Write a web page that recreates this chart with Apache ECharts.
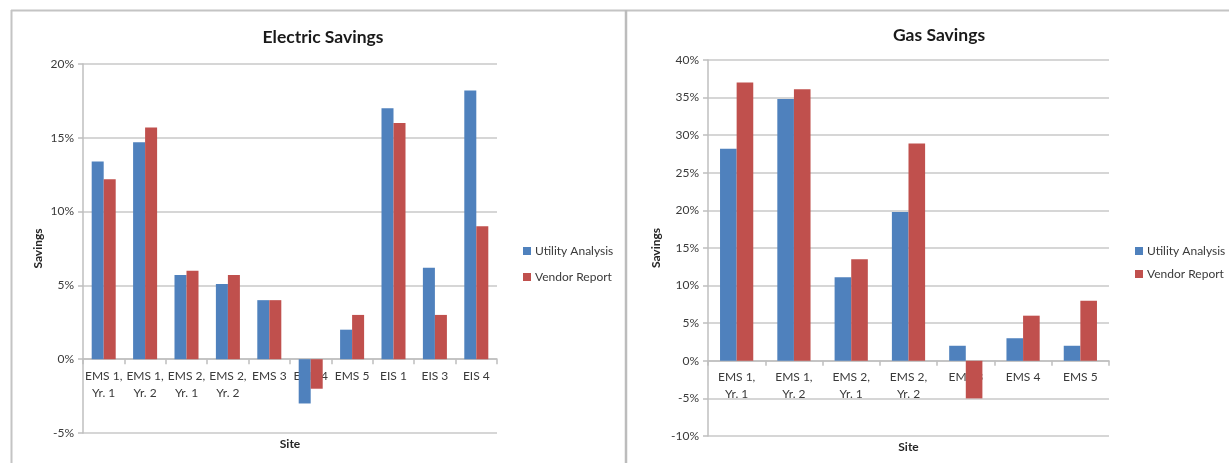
<!DOCTYPE html>
<html><head><meta charset="utf-8">
<script src="https://cdn.jsdelivr.net/npm/echarts@6/dist/echarts.min.js"></script>
<style>html,body{margin:0;padding:0;background:#fff;}#c{width:1229px;height:463px;}</style>
</head><body><div id="c"></div>
<script>
const elecCategories = ['EMS 1,\nYr. 1','EMS 1,\nYr. 2','EMS 2,\nYr. 1','EMS 2,\nYr. 2','EMS 3','EMS 4','EMS 5','EIS 1','EIS 3','EIS 4'];
const elecUtility = [13.4, 14.7, 5.7, 5.1, 4.0, -3.0, 2.0, 17.0, 6.2, 18.2];
const elecVendor  = [12.2, 15.7, 6.0, 5.7, 4.0, -2.0, 3.0, 16.0, 3.0, 9.0];
const gasCategories = ['EMS 1,\nYr. 1','EMS 1,\nYr. 2','EMS 2,\nYr. 1','EMS 2,\nYr. 2','EMS 3','EMS 4','EMS 5'];
const gasUtility = [28.2, 34.8, 11.1, 19.8, 2.0, 3.0, 2.0];
const gasVendor  = [37.0, 36.1, 13.5, 28.9, -5.0, 6.0, 8.0];
const seriesNames = ['Utility Analysis', 'Vendor Report'];
const elecTicks = { min: -5, max: 20 };
const gasTicks = { min: -10, max: 40 };

const FONT = 'Lato, "Liberation Sans", sans-serif';
const BLUE = '#4F81BD', RED = '#C0504D';
const TXT = '#3a3a3a', GRID = '#c8c8c8', AX = '#bfbfbf';

const grids = [
  { left: 83, right: 1229 - 497, top: 64, bottom: 463 - 433 },
  { left: 708, right: 1229 - 1109, top: 60, bottom: 463 - 436 }
];
function zeroOffset(g, t) {
  const h = 463 - g.top - g.bottom;
  return -h * (0 - t.min) / (t.max - t.min);
}

function xAx(idx, cats, t) {
  return {
    type: 'category', gridIndex: idx, data: cats,
    offset: zeroOffset(grids[idx], t),
    axisLine: { onZero: false, lineStyle: { color: AX, width: 1.5 } },
    axisTick: { show: true, length: 5, lineStyle: { color: AX, width: 1.5 } },
    axisLabel: { interval: 0, color: TXT, fontSize: 12, fontFamily: FONT, lineHeight: 17, margin: 8 },
    name: 'Site', nameLocation: 'middle', nameGap: idx === 0 ? 79 : 80,
    nameTextStyle: { fontWeight: 'bold', fontSize: 12, color: '#262626', fontFamily: FONT }
  };
}
function yAx(idx, t, gap) {
  return {
    type: 'value', gridIndex: idx, min: t.min, max: t.max, interval: 5,
    axisLine: { show: true, lineStyle: { color: AX, width: 1.5 } },
    axisTick: { show: true, length: 5, lineStyle: { color: AX, width: 1.5 } },
    splitLine: { show: true, lineStyle: { color: GRID, width: 1.5 } },
    axisLabel: { formatter: '{value}%', color: TXT, fontSize: 12, fontFamily: FONT, margin: 9 },
    name: 'Savings', nameLocation: 'middle', nameRotate: 90, nameGap: gap,
    nameTextStyle: { fontWeight: 'bold', fontSize: 12, color: '#262626', fontFamily: FONT }
  };
}
function bar(name, data, idx, color) {
  return {
    type: 'bar', name: name, data: data, xAxisIndex: idx, yAxisIndex: idx,
    itemStyle: { color: color }, barGap: '0%', barCategoryGap: '42%'
  };
}
function legend(left, gap) {
  return {
    orient: 'vertical', left: left, top: 239, itemWidth: 8, itemHeight: 8, itemGap: gap,
    icon: 'rect', data: seriesNames,
    textStyle: { color: TXT, fontSize: 12, fontFamily: FONT, lineHeight: 14, padding: [0,0,0,-1] }
  };
}

const chart = echarts.init(document.getElementById('c'), null, { renderer: 'canvas' });
chart.setOption({
  animation: false,
  backgroundColor: '#fff',
  title: [
    { text: 'Electric Savings', left: 318, top: 23, textAlign: 'center',
      textStyle: { fontSize: 17.5, fontWeight: 'bold', color: '#1a1a1a', fontFamily: FONT } },
    { text: 'Gas Savings', left: 934, top: 21, textAlign: 'center',
      textStyle: { fontSize: 17.5, fontWeight: 'bold', color: '#1a1a1a', fontFamily: FONT } }
  ],
  legend: [legend(518, 12), legend(1130, 9)],
  grid: grids.map(g => Object.assign({ containLabel: false, outerBoundsMode: 'none' }, g)),
  xAxis: [xAx(0, elecCategories, elecTicks), xAx(1, gasCategories, gasTicks)],
  yAxis: [yAx(0, elecTicks, 39), yAx(1, gasTicks, 46)],
  series: [
    bar(seriesNames[0], elecUtility, 0, BLUE),
    bar(seriesNames[1], elecVendor, 0, RED),
    bar(seriesNames[0], gasUtility, 1, BLUE),
    bar(seriesNames[1], gasVendor, 1, RED)
  ],
  graphic: [
    { type: 'line', shape: { x1: 11, y1: 10.5, x2: 1229, y2: 10.5 }, style: { stroke: '#c4c4c4', lineWidth: 2 }, silent: true },
    { type: 'line', shape: { x1: 11.5, y1: 10, x2: 11.5, y2: 463 }, style: { stroke: '#c4c4c4', lineWidth: 2 }, silent: true },
    { type: 'line', shape: { x1: 626, y1: 10, x2: 626, y2: 463 }, style: { stroke: '#bcbcbc', lineWidth: 2.5 }, silent: true }
  ]
});
</script>
</body></html>
